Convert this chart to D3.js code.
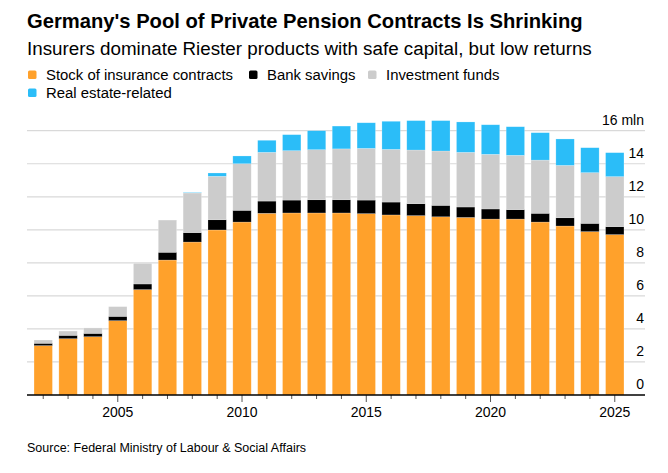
<!DOCTYPE html>
<html><head><meta charset="utf-8">
<script src="https://cdn.jsdelivr.net/npm/d3@7"></script>
<style>
body{margin:0;background:#fff;}
svg{display:block;font-family:"Liberation Sans",Arial,Helvetica,sans-serif;}
</style></head>
<body><svg id="c" width="668" height="473"></svg>
<script>
const years = [2002,2003,2004,2005,2006,2007,2008,2009,2010,2011,2012,2013,2014,2015,2016,2017,2018,2019,2020,2021,2022,2023,2024,2025];
const insurance  = [2.99,3.41,3.53,4.50,6.38,8.17,9.26,9.99,10.47,11.00,11.02,11.02,11.02,10.98,10.90,10.86,10.79,10.75,10.65,10.65,10.47,10.23,9.89,9.71];
const bank       = [0.14,0.20,0.20,0.26,0.34,0.47,0.57,0.62,0.71,0.74,0.78,0.80,0.80,0.82,0.78,0.72,0.69,0.63,0.61,0.57,0.53,0.50,0.50,0.48];
const funds      = [0.20,0.26,0.33,0.59,1.25,1.95,2.40,2.63,2.82,2.95,2.99,3.03,3.08,3.13,3.19,3.25,3.29,3.31,3.31,3.29,3.22,3.17,3.07,3.03];
const realEstate = [0,0,0,0,0,0,0.03,0.20,0.47,0.73,0.97,1.15,1.38,1.55,1.70,1.78,1.84,1.84,1.79,1.73,1.66,1.60,1.51,1.45];
const seriesNames = ["Stock of insurance contracts","Bank savings","Investment funds","Real estate-related"];
const seriesKeys = ["insurance","bank","funds","realEstate"];
const colors = ["#ffa12b","#000000","#cccccc","#2bbdf8"];
const yTicks = [0,2,4,6,8,10,12,14,16];
const xLabels = [2005,2010,2015,2020,2025];

const rows = years.map((y,i)=>({year:y,insurance:insurance[i],bank:bank[i],funds:funds[i],realEstate:realEstate[i]}));
const svg = d3.select("#c");

const plotLeft=27,plotRight=645,plotBase=395,plotTop=130.7;
const x = d3.scaleBand().domain(years).range([30.8,627.2]).paddingInner(0.26).paddingOuter(0.13);
const y = d3.scaleLinear().domain([0,16]).range([plotBase,plotTop]);

// Title
svg.append("text").attr("x",27).attr("y",28).attr("font-size",20.2).attr("font-weight","bold").attr("fill","#000")
  .text("Germany's Pool of Private Pension Contracts Is Shrinking");
svg.append("text").attr("x",27).attr("y",55).attr("font-size",18.8).attr("fill","#000")
  .text("Insurers dominate Riester products with safe capital, but low returns");

// Legend
const legPos = [[28,80],[249,80],[368,80],[28,98]];
seriesNames.forEach((n,i)=>{
  const g = svg.append("g");
  g.append("rect").attr("x",legPos[i][0]).attr("y",legPos[i][1]-9.5).attr("width",8.5).attr("height",8.5).attr("rx",1.5).attr("fill",colors[i]);
  g.append("text").attr("x",legPos[i][0]+18).attr("y",legPos[i][1]).attr("font-size",14.9).attr("fill","#000").text(n);
});

// Gridlines
svg.append("g").selectAll("line").data(yTicks.filter(d=>d>0)).join("line")
  .attr("x1",plotLeft).attr("x2",plotRight).attr("y1",d=>y(d)).attr("y2",d=>y(d))
  .attr("stroke","#d9d9d9").attr("stroke-width",1.2);

// Bars
const stack = d3.stack().keys(seriesKeys)(rows);
svg.append("g").selectAll("g").data(stack).join("g").attr("fill",(d,i)=>colors[i])
  .selectAll("rect").data(d=>d).join("rect")
  .attr("x",d=>x(d.data.year)).attr("width",x.bandwidth())
  .attr("y",d=>y(d[1])).attr("height",d=>Math.max(0,y(d[0])-y(d[1])))
  .attr("stroke","rgba(255,255,255,0.35)").attr("stroke-width",0.6);

// Y labels
svg.append("g").selectAll("text").data(yTicks).join("text")
  .attr("x",644).attr("y",d=>y(d)-6).attr("text-anchor","end").attr("font-size",14).attr("fill","#000")
  .text(d=>d===16?"16 mln":d);

// X axis
const xAxis = d3.axisBottom(x).tickSize(4).tickFormat("");
const ax = svg.append("g").attr("transform",`translate(0,${plotBase})`).call(xAxis);
ax.select(".domain").remove();
ax.selectAll(".tick line").attr("stroke","#555").attr("y2",d=>xLabels.includes(d)?7:4);
svg.append("line").attr("x1",plotLeft).attr("x2",plotRight).attr("y1",plotBase).attr("y2",plotBase).attr("stroke","#000").attr("stroke-width",1.3);
svg.append("g").selectAll("text").data(xLabels).join("text")
  .attr("x",d=>x(d)+x.bandwidth()/2).attr("y",417).attr("text-anchor","middle").attr("font-size",14).attr("fill","#000")
  .text(d=>d);

// Source
svg.append("text").attr("x",27).attr("y",452).attr("font-size",12.5).attr("fill","#000")
  .text("Source: Federal Ministry of Labour & Social Affairs");
</script></body></html>
